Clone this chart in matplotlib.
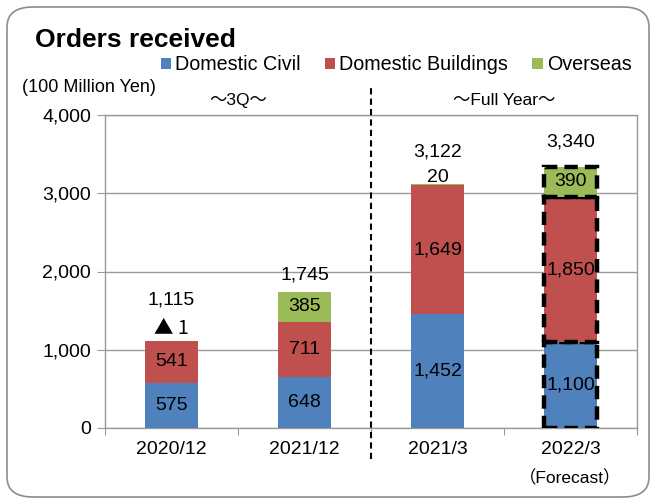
import matplotlib
matplotlib.use("Agg")
import matplotlib.pyplot as plt
from matplotlib.patches import FancyBboxPatch, Patch
from matplotlib.lines import Line2D
import matplotlib.transforms as mtransforms

plt.rcParams["font.family"] = ["Liberation Sans", "Noto Sans CJK JP"]

# ---------------------------------------------------------------------------
# Data (100 million yen)
# ---------------------------------------------------------------------------
periods = ["2020/12", "2021/12", "2021/3", "2022/3"]
domestic_civil = [575, 648, 1452, 1100]
domestic_buildings = [541, 711, 1649, 1850]
overseas = [-1, 385, 20, 390]
totals = [1115, 1745, 3122, 3340]
overseas_labels = ["▲ 1", "385", "20", "390"]
forecast_idx = 3

BLUE = "#4F81BD"
RED = "#C0504D"
GREEN = "#9BBB59"
GRID = "#9a9a9a"

fig = plt.figure(figsize=(6.51, 5.0), dpi=100)

# rounded outer frame (behind everything)
frame = FancyBboxPatch((7 / 651, 3 / 500), 642 / 651, 490 / 500,
                       boxstyle="round,pad=0,rounding_size=0.04",
                       transform=fig.transFigure, facecolor="white",
                       edgecolor="#8c8c8c", linewidth=1.2, zorder=-5)
fig.patches.append(frame)

ax = fig.add_axes([105 / 651, 72 / 500, 532 / 651, 313 / 500])
ax.set_facecolor("none")

x = list(range(len(periods)))
width = 0.4
bottom_ov = [c + b for c, b in zip(domestic_civil, domestic_buildings)]

for i in x:
    forecast = i == forecast_idx
    kw = dict(width=width, zorder=3)
    if forecast:
        kw.update(edgecolor="black", linewidth=3.2, linestyle=(0, (3, 1.6)))
    else:
        kw.update(edgecolor="none")
    ax.bar(i, domestic_civil[i], color=BLUE, **kw)
    ax.bar(i, domestic_buildings[i], bottom=domestic_civil[i], color=RED, **kw)
    ax.bar(i, overseas[i], bottom=bottom_ov[i], color=GREEN, **kw)

fs = 14
# segment labels
for i in x:
    ax.text(i, domestic_civil[i] / 2, f"{domestic_civil[i]:,}",
            ha="center", va="center", fontsize=fs, zorder=5)
    ax.text(i, domestic_civil[i] + domestic_buildings[i] / 2,
            f"{domestic_buildings[i]:,}", ha="center", va="center",
            fontsize=fs, zorder=5)

# overseas labels: inside when large, above the bar when tiny
for i in x:
    if overseas[i] >= 100:
        ax.text(i, bottom_ov[i] + overseas[i] / 2, overseas_labels[i],
                ha="center", va="center", fontsize=fs, zorder=5)
    elif overseas[i] < 0:
        ax.text(i, totals[i] + 160, overseas_labels[i],
                ha="center", va="center", fontsize=fs, zorder=5,
                family=["Noto Sans CJK JP", "Liberation Sans"])
    else:
        ax.text(i, totals[i] + 75, overseas_labels[i],
                ha="center", va="center", fontsize=fs, zorder=5)

# total labels
total_offsets = [520, 210, 410, 310]
for i in x:
    ax.text(i, totals[i] + total_offsets[i], f"{totals[i]:,}",
            ha="center", va="center", fontsize=fs, zorder=5)

ax.set_xlim(-0.5, 3.5)
ax.set_ylim(0, 4000)
ax.set_yticks([0, 1000, 2000, 3000, 4000])
ax.set_yticklabels([f"{v:,}" for v in [0, 1000, 2000, 3000, 4000]], fontsize=fs)
ax.yaxis.grid(True, color=GRID, linewidth=1.0, zorder=1)
ax.set_axisbelow(True)
ax.tick_params(axis="y", length=6, color=GRID, pad=4)

ax.set_xticks([-0.5, 0.5, 1.5, 2.5, 3.5])
ax.set_xticklabels([])
ax.tick_params(axis="x", length=5, color=GRID)
for i, lab in enumerate(periods):
    ax.text(i, -0.07, lab, transform=ax.get_xaxis_transform(),
            ha="center", va="center", fontsize=fs)
ax.text(forecast_idx, -0.16, "（Forecast）", transform=ax.get_xaxis_transform(),
        ha="center", va="center", fontsize=12.5)

for sp in ax.spines.values():
    sp.set_color(GRID)
    sp.set_linewidth(1.0)

# separator between 3Q and Full Year
trans = mtransforms.blended_transform_factory(ax.transData, ax.transAxes)
ax.add_line(Line2D([1.5, 1.5], [-0.1, 1.087], transform=trans, color="black",
                   linewidth=1.5, linestyle=(0, (3, 2)), clip_on=False, zorder=6))

ax.text(0.5, 1.045, "～3Q～", transform=trans, ha="center", va="center",
        fontsize=12.5)
ax.text(2.5, 1.045, "～Full Year～", transform=trans, ha="center", va="center",
        fontsize=12.5)

fig.text(35 / 651, 1 - 40 / 500, "Orders received", fontsize=19,
         fontweight="bold", ha="left", va="center")
fig.text(22 / 651, 1 - 88 / 500, "(100 Million Yen)", fontsize=13,
         ha="left", va="center")

handles = [Patch(facecolor=BLUE), Patch(facecolor=RED), Patch(facecolor=GREEN)]
fig.legend(handles, ["Domestic Civil", "Domestic Buildings", "Overseas"],
           loc="center", bbox_to_anchor=(396 / 651, 1 - 65 / 500), ncol=3,
           frameon=False, fontsize=14.2, handlelength=0.55, handleheight=0.55,
           handletextpad=0.2, columnspacing=1.2, borderaxespad=0)

fig.savefig("out.png", dpi=100)
